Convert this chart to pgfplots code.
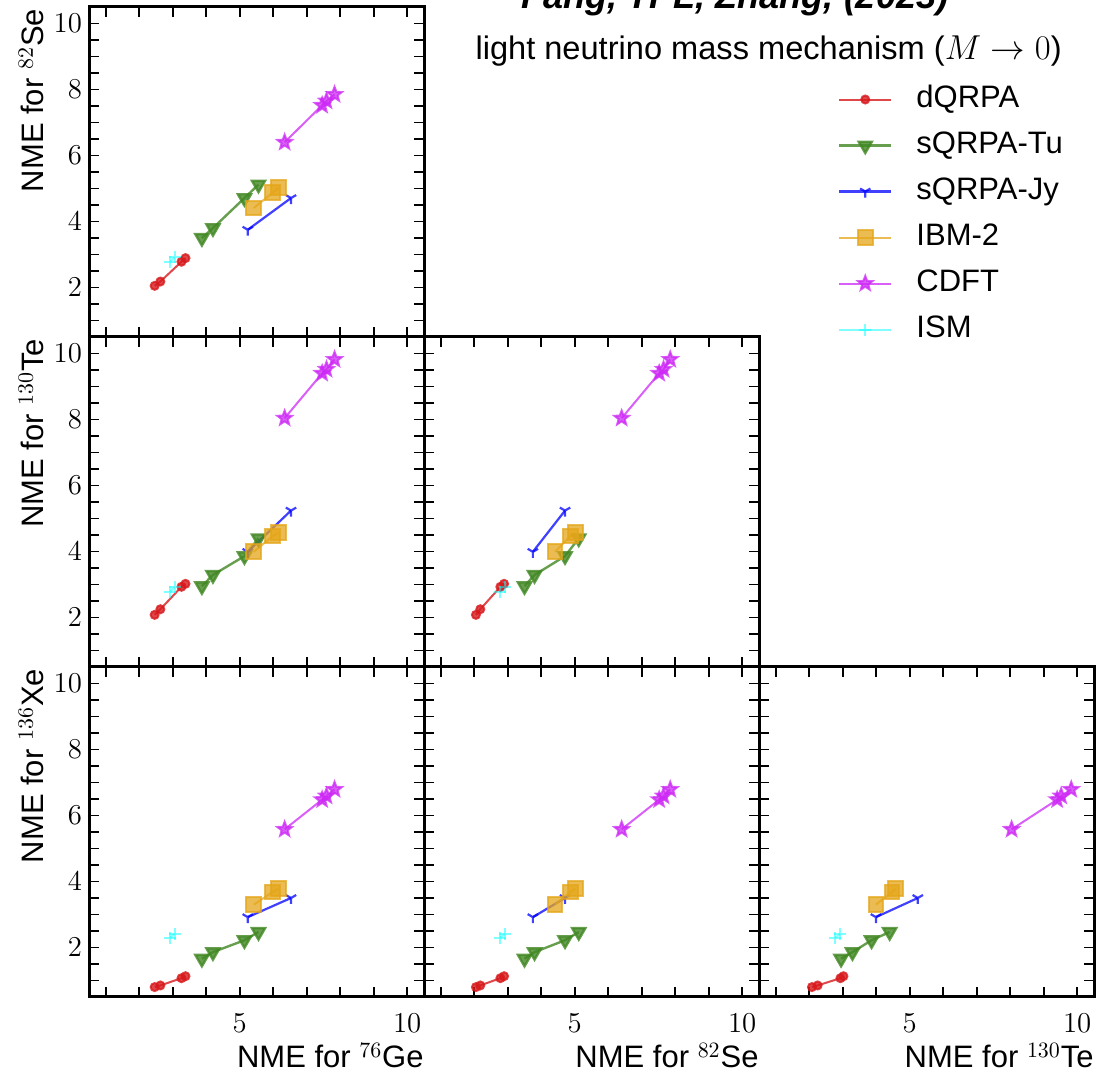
\documentclass[border=0pt]{standalone}
\usepackage{fontspec}
\setmainfont{Liberation Sans}
\usepackage{pgfplots}
\usepackage{pgfplotstable}
\pgfplotsset{compat=1.18}
\usetikzlibrary{plotmarks}

\definecolor{cRed}{RGB}{215,25,28}
\definecolor{cGreen}{RGB}{65,135,35}
\definecolor{cBlue}{RGB}{0,0,255}
\definecolor{cOrange}{RGB}{228,165,25}
\definecolor{cMag}{RGB}{205,40,245}
\definecolor{cCyan}{RGB}{0,255,255}

\pgfdeclareplotmark{fstar}{%
 \pgfpathmoveto{\pgfpointpolar{90}{\pgfplotmarksize}}%
 \pgfpathlineto{\pgfpointpolar{126}{0.42\pgfplotmarksize}}%
 \pgfpathlineto{\pgfpointpolar{162}{\pgfplotmarksize}}%
 \pgfpathlineto{\pgfpointpolar{198}{0.42\pgfplotmarksize}}%
 \pgfpathlineto{\pgfpointpolar{234}{\pgfplotmarksize}}%
 \pgfpathlineto{\pgfpointpolar{270}{0.42\pgfplotmarksize}}%
 \pgfpathlineto{\pgfpointpolar{306}{\pgfplotmarksize}}%
 \pgfpathlineto{\pgfpointpolar{342}{0.42\pgfplotmarksize}}%
 \pgfpathlineto{\pgfpointpolar{18}{\pgfplotmarksize}}%
 \pgfpathlineto{\pgfpointpolar{54}{0.42\pgfplotmarksize}}%
 \pgfpathclose
 \pgfusepathqfillstroke}

\pgfplotstableread{
Ge Se Te Xe
2.46 2.05 2.08 0.80
2.63 2.18 2.25 0.85
3.26 2.78 2.93 1.07
3.38 2.89 3.02 1.13
}\dqrpa
\pgfplotstableread{
Ge Se Te Xe
3.87 3.50 2.95 1.66
4.20 3.80 3.29 1.86
5.14 4.71 3.86 2.22
5.56 5.12 4.40 2.47
}\sqrpatu
\pgfplotstableread{
Ge Se Te Xe
5.24 3.75 3.99 2.92
6.53 4.71 5.24 3.50
}\sqrpajy
\pgfplotstableread{
Ge Se Te Xe
5.42 4.41 3.99 3.30
5.98 4.87 4.47 3.68
6.16 5.02 4.57 3.78
}\ibm
\pgfplotstableread{
Ge Se Te Xe
6.34 6.40 8.04 5.58
7.46 7.52 9.40 6.48
7.59 7.65 9.52 6.59
7.83 7.85 9.82 6.79
}\cdft
\pgfplotstableread{
Ge Se Te Xe
2.91 2.76 2.76 2.28
3.06 2.92 2.93 2.42
}\ism

\pgfplotsset{
 corner/.style={
  width=167.5pt, height=165pt, scale only axis,
  xmin=0.5, xmax=10.5, ymin=0.5, ymax=10.5,
  xtick={5,10}, minor xtick={1,2,3,4,6,7,8,9},
  ytick={2,4,6,8,10},
  minor ytick={1,1.5,2.5,3,3.5,4.5,5,5.5,6.5,7,7.5,8.5,9,9.5},
  tick align=inside, tick pos=both,
  major tick length=5pt, minor tick length=5pt,
  tick style={black, line width=0.9pt},
  axis line style={line width=1.5pt},
  tick label style={font=\fontsize{15.5}{18}\selectfont},
  label style={font=\fontsize{15.5}{18}\selectfont},
  xticklabel style={yshift=-5pt},
  ylabel style={at={(axis description cs:-0.134,0.995)}, anchor=south east, inner sep=0pt},
  xlabel style={at={(axis description cs:1,-0.215)}, anchor=base east, inner sep=0pt},
 },
 dq/.style={color=cRed, line width=1pt, opacity=0.8, mark=*, mark size=2pt, mark options={solid}},
 tu/.style={color=cGreen, line width=1.2pt, opacity=0.8, mark=triangle*, mark size=3.8pt, mark options={solid, rotate=180}},
 jy/.style={color=cBlue, line width=1.1pt, opacity=0.75, mark=Mercedes star flipped, mark size=3pt, mark options={solid}},
 ib/.style={color=cOrange, line width=1pt, opacity=0.75, mark=square*, mark size=3.7pt, mark options={solid}},
 cd/.style={color=cMag, line width=1pt, opacity=0.75, mark=fstar, mark size=3.8pt, mark options={solid}},
 is/.style={color=cCyan, line width=1pt, opacity=0.5, mark=+, mark size=3pt, mark options={solid}},
}

\begin{document}
\begin{tikzpicture}
\useasboundingbox (0,0) rectangle (548.5pt,537.5pt);
\clip (0,0) rectangle (548.5pt,537.5pt);

% Row 1: Ge vs Se
\begin{axis}[corner, at={(44.5pt,369pt)}, anchor=south west,
  xticklabel=\empty,
  ylabel={NME for $^{82}$Se},
  legend cell align=left,
  legend image code/.code={\draw[mark repeat=2,mark phase=2] plot coordinates {(0pt,0pt) (13pt,0pt) (26pt,0pt)};},
  legend style={at={(axis description cs:2.236,0.7636)}, anchor=north west, draw=none, fill=none,
    inner sep=0pt, outer sep=0pt, row sep=8.5pt, column sep=12pt,
    font=\fontsize{15.5}{18}\selectfont,
    nodes={inner sep=0pt, text height=11pt, text depth=3.5pt}},
]
\addplot[dq] table[x=Ge,y=Se] {\dqrpa}; \addlegendentry{dQRPA}
\addplot[tu] table[x=Ge,y=Se] {\sqrpatu}; \addlegendentry{sQRPA-Tu}
\addplot[jy] table[x=Ge,y=Se] {\sqrpajy}; \addlegendentry{sQRPA-Jy}
\addplot[ib] table[x=Ge,y=Se] {\ibm}; \addlegendentry{IBM-2}
\addplot[cd] table[x=Ge,y=Se] {\cdft}; \addlegendentry{CDFT}
\addplot[is] table[x=Ge,y=Se] {\ism}; \addlegendentry{ISM}
\end{axis}

% Row 2: Ge vs Te
\begin{axis}[corner, at={(44.5pt,204pt)}, anchor=south west,
  xticklabel=\empty,
  ylabel={NME for $^{130}$Te}]
\addplot[dq] table[x=Ge,y=Te] {\dqrpa};
\addplot[tu] table[x=Ge,y=Te] {\sqrpatu};
\addplot[jy] table[x=Ge,y=Te] {\sqrpajy};
\addplot[ib] table[x=Ge,y=Te] {\ibm};
\addplot[cd] table[x=Ge,y=Te] {\cdft};
\addplot[is] table[x=Ge,y=Te] {\ism};
\end{axis}

% Row 2: Se vs Te
\begin{axis}[corner, at={(212pt,204pt)}, anchor=south west,
  xticklabel=\empty, yticklabel=\empty]
\addplot[dq] table[x=Se,y=Te] {\dqrpa};
\addplot[tu] table[x=Se,y=Te] {\sqrpatu};
\addplot[jy] table[x=Se,y=Te] {\sqrpajy};
\addplot[ib] table[x=Se,y=Te] {\ibm};
\addplot[cd] table[x=Se,y=Te] {\cdft};
\addplot[is] table[x=Se,y=Te] {\ism};
\end{axis}

% Row 3: Ge vs Xe
\begin{axis}[corner, at={(44.5pt,39pt)}, anchor=south west,
  ylabel={NME for $^{136}$Xe}, xlabel={NME for $^{76}$Ge}]
\addplot[dq] table[x=Ge,y=Xe] {\dqrpa};
\addplot[tu] table[x=Ge,y=Xe] {\sqrpatu};
\addplot[jy] table[x=Ge,y=Xe] {\sqrpajy};
\addplot[ib] table[x=Ge,y=Xe] {\ibm};
\addplot[cd] table[x=Ge,y=Xe] {\cdft};
\addplot[is] table[x=Ge,y=Xe] {\ism};
\end{axis}

% Row 3: Se vs Xe
\begin{axis}[corner, at={(212pt,39pt)}, anchor=south west,
  yticklabel=\empty, xlabel={NME for $^{82}$Se}]
\addplot[dq] table[x=Se,y=Xe] {\dqrpa};
\addplot[tu] table[x=Se,y=Xe] {\sqrpatu};
\addplot[jy] table[x=Se,y=Xe] {\sqrpajy};
\addplot[ib] table[x=Se,y=Xe] {\ibm};
\addplot[cd] table[x=Se,y=Xe] {\cdft};
\addplot[is] table[x=Se,y=Xe] {\ism};
\end{axis}

% Row 3: Te vs Xe
\begin{axis}[corner, at={(379.5pt,39pt)}, anchor=south west,
  yticklabel=\empty, xlabel={NME for $^{130}$Te}]
\addplot[dq] table[x=Te,y=Xe] {\dqrpa};
\addplot[tu] table[x=Te,y=Xe] {\sqrpatu};
\addplot[jy] table[x=Te,y=Xe] {\sqrpajy};
\addplot[ib] table[x=Te,y=Xe] {\ibm};
\addplot[cd] table[x=Te,y=Xe] {\cdft};
\addplot[is] table[x=Te,y=Xe] {\ism};
\end{axis}

\node[anchor=base, inner sep=0pt, font=\fontsize{18}{20}\selectfont\bfseries\itshape] at (367.5pt,533pt) {Fang, TPL, Zhang, (2023)};
\node[anchor=base east, inner sep=0pt, font=\fontsize{16.3}{19}\selectfont] at (531pt,507.5pt) {light neutrino mass mechanism ($M \to 0$)};
\end{tikzpicture}
\end{document}
